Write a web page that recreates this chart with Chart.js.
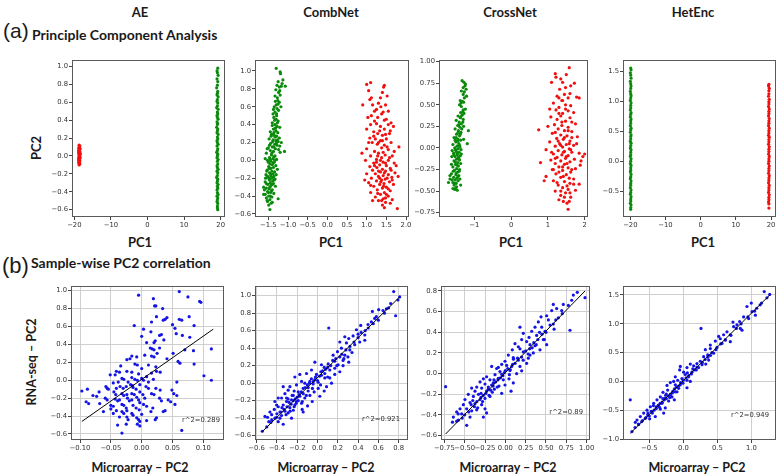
<!DOCTYPE html>
<html><head><meta charset="utf-8">
<script src="https://cdn.jsdelivr.net/npm/chart.js@4"></script>
<style>
html,body{margin:0;padding:0;width:778px;height:476px;overflow:hidden;background:#fff;}
body{position:relative;font-family:Lato,sans-serif;}
canvas{position:absolute;}
.t{position:absolute;white-space:nowrap;color:#1a1a1a;transform:translate(-50%,-50%);line-height:1;}
.b{font-family:Lato,sans-serif;font-weight:700;}
.l{position:absolute;white-space:nowrap;color:#1a1a1a;line-height:1;}
.r{transform:translate(-50%,-50%) rotate(-90deg);}
</style></head><body>
<div class="t b" style="left:140px;top:12px;font-size:13px">AE</div>
<div class="t b" style="left:331px;top:12px;font-size:13px">CombNet</div>
<div class="t b" style="left:510px;top:12px;font-size:13px">CrossNet</div>
<div class="t b" style="left:693px;top:12px;font-size:13px">HetEnc</div>
<div class="l" style="left:3px;top:20px;font-family:'Liberation Sans',sans-serif;font-size:21px">(a)</div>
<div class="l b" style="left:32px;top:28px;font-size:14px">Principle Component Analysis</div>
<div class="l" style="left:2px;top:255px;font-family:'Liberation Sans',sans-serif;font-size:22px">(b)</div>
<div class="l b" style="left:31px;top:256px;font-size:14px">Sample-wise PC2 correlation</div>
<div class="t b r" style="left:36px;top:148px;font-size:13px">PC2</div>
<div class="t b r" style="left:32px;top:362px;font-size:12.5px">RNA-seq – PC2</div>
<div class="t b" style="left:140px;top:242px;font-size:13px">PC1</div>
<div class="t b" style="left:331px;top:242px;font-size:13px">PC1</div>
<div class="t b" style="left:511px;top:242px;font-size:13px">PC1</div>
<div class="t b" style="left:703px;top:242px;font-size:13px">PC1</div>
<div class="t b" style="left:140px;top:468px;font-size:12.5px">Microarray – PC2</div>
<div class="t b" style="left:326px;top:468px;font-size:12.5px">Microarray – PC2</div>
<div class="t b" style="left:508px;top:468px;font-size:12.5px">Microarray – PC2</div>
<div class="t b" style="left:697px;top:468px;font-size:12.5px">Microarray – PC2</div>
<script>
// ---------------- DATA ----------------
const aeTopRed = [[-18.7,0.12],[-18.5,0.11],[-18.6,0.10],[-18.8,0.09],[-18.4,0.08],[-18.7,0.07],[-18.6,0.06],[-18.8,0.05],[-18.5,0.05],[-18.7,0.04],[-18.8,0.03],[-18.4,0.03],[-18.6,0.02],[-18.7,0.01],[-18.5,0.00],[-18.7,0.00],[-18.6,-0.01],[-18.8,-0.02],[-18.4,-0.02],[-18.7,-0.03],[-18.6,-0.04],[-18.8,-0.05],[-18.5,-0.05],[-18.7,-0.06],[-18.6,-0.07],[-18.8,-0.08],[-18.5,-0.09],[-18.7,-0.10],[-18.6,0.085],[-18.8,-0.035],[-18.45,0.015],[-18.75,0.065],[-18.65,-0.065]];
const aeTopGreen = [[19.2,0.98],[19.0,0.95],[19.1,0.93],[19.3,0.90],[19.0,0.86],[19.2,0.83],[19.1,0.79],[18.9,0.76],[19.2,0.72],[19.1,0.70],[19.0,0.68],[19.3,0.66],[19.1,0.63],[19.0,0.61],[19.2,0.59],[19.1,0.56],[18.9,0.54],[19.3,0.52],[19.1,0.49],[19.2,0.47],[19.0,0.45],[19.1,0.43],[19.3,0.41],[19.0,0.38],[19.2,0.36],[19.1,0.35],[18.9,0.32],[19.2,0.30],[19.1,0.28],[19.0,0.26],[19.3,0.24],[19.1,0.21],[19.2,0.19],[19.0,0.17],[19.1,0.15],[19.3,0.13],[19.0,0.11],[19.2,0.08],[19.1,0.06],[18.9,0.04],[19.2,0.02],[19.1,0.00],[19.0,-0.02],[19.3,-0.04],[19.1,-0.06],[19.2,-0.09],[19.0,-0.11],[19.1,-0.13],[19.3,-0.15],[19.0,-0.17],[19.2,-0.19],[19.1,-0.22],[18.9,-0.24],[19.2,-0.26],[19.1,-0.28],[19.0,-0.30],[19.3,-0.32],[19.1,-0.34],[19.2,-0.36],[19.0,-0.38],[19.1,-0.41],[19.3,-0.43],[19.0,-0.45],[19.2,-0.47],[19.1,-0.49],[19.0,-0.51],[19.2,-0.53],[19.1,-0.56],[19.1,-0.58],[19.2,-0.60]];
const combTopGreen = [[-1.30,1.03],[-1.20,0.99],[-1.19,0.97],[-1.13,0.90],[-1.07,0.83],[-1.25,0.88],[-1.28,0.84],[-1.22,0.82],[-1.17,0.83],[-1.31,0.79],[-1.24,0.76],[-1.20,0.73],[-1.27,0.70],[-1.33,0.72],[-1.26,0.67],[-1.22,0.65],[-1.30,0.62],[-1.35,0.60],[-1.28,0.58],[-1.24,0.56],[-1.33,0.54],[-1.18,0.60],[-1.38,0.52],[-1.29,0.50],[-1.36,0.48],[-1.30,0.46],[-1.25,0.44],[-1.40,0.42],[-1.33,0.40],[-1.28,0.38],[-1.21,0.37],[-1.37,0.35],[-1.31,0.33],[-1.45,0.32],[-1.26,0.31],[-1.42,0.29],[-1.35,0.28],[-1.29,0.27],[-1.22,0.25],[-1.48,0.24],[-1.38,0.23],[-1.31,0.22],[-1.25,0.21],[-1.17,0.20],[-1.44,0.19],[-1.34,0.18],[-1.28,0.17],[-1.40,0.15],[-1.50,0.14],[-1.32,0.13],[-1.24,0.12],[-1.45,0.11],[-1.37,0.10],[-1.09,0.10],[-1.55,0.08],[-1.20,0.09],[-1.42,0.06],[-1.33,0.05],[-1.47,0.03],[-1.38,0.02],[-1.29,0.01],[-1.52,0.00],[-1.43,-0.01],[-1.35,-0.02],[-1.46,-0.04],[-1.40,-0.05],[-1.31,-0.06],[-1.49,-0.07],[-1.37,-0.08],[-1.44,-0.09],[-1.27,-0.10],[-1.53,-0.11],[-1.41,-0.12],[-1.34,-0.13],[-1.47,-0.14],[-1.38,-0.15],[-1.56,-0.16],[-1.44,-0.17],[-1.36,-0.18],[-1.50,-0.19],[-1.42,-0.20],[-1.33,-0.21],[-1.47,-0.22],[-1.39,-0.23],[-1.58,-0.24],[-1.45,-0.25],[-1.37,-0.26],[-1.51,-0.27],[-1.43,-0.28],[-1.32,-0.29],[-1.62,-0.30],[-1.55,-0.31],[-1.48,-0.32],[-1.40,-0.33],[-1.52,-0.35],[-1.44,-0.36],[-1.36,-0.37],[-1.58,-0.38],[-1.49,-0.40],[-1.41,-0.41],[-1.55,-0.42],[-1.25,-0.43],[-1.46,-0.44],[-1.52,-0.46],[-1.43,-0.48],[-1.49,-0.50],[-1.46,-0.55],
 [-1.48,-0.21],[-1.52,-0.18],[-1.40,-0.27],[-1.46,-0.30],[-1.55,-0.26],[-1.35,-0.22],[-1.42,-0.34],[-1.50,-0.36],[-1.60,-0.33],[-1.45,-0.40],[-1.38,-0.03],[-1.45,0.01],[-1.50,-0.02],[-1.33,0.00],[-1.41,0.08],[-1.36,0.15],[-1.47,0.17],[-1.30,0.19],[-1.39,0.21],[-1.27,0.23],[-1.33,0.26],[-1.43,0.27],[-1.36,0.31],[-1.32,0.36],[-1.40,0.39],[-1.27,0.42],[-1.34,0.45],[-1.29,0.52],[-1.37,0.57],[-1.25,0.63],[-1.32,0.66],[-1.21,0.78],[-1.15,0.86],[-1.48,-0.09],[-1.54,-0.12],[-1.44,-0.15],[-1.30,-0.16],[-1.57,-0.20],[-1.39,-0.19],[-1.62,-0.38],[-1.53,-0.45],[-1.40,-0.47],[-1.36,0.04],[-1.53,0.13],[-1.21,0.16],[-1.58,0.02]];
const combTopRed = [[1.00,0.85],[1.10,0.87],[1.43,0.82],[1.45,0.84],[1.05,0.78],[1.40,0.76],[1.52,0.72],[0.90,0.62],[1.08,0.68],[1.15,0.62],[1.30,0.64],[1.36,0.60],[1.48,0.62],[1.25,0.57],[1.42,0.54],[1.03,0.48],[1.12,0.50],[1.28,0.48],[1.50,0.46],[1.20,0.44],[1.62,0.42],[1.55,0.40],[1.10,0.40],[1.35,0.38],[1.00,0.35],[1.45,0.35],[1.60,0.33],[1.18,0.32],[1.28,0.30],[1.40,0.28],[1.08,0.25],[1.22,0.24],[1.50,0.24],[1.35,0.22],[1.62,0.20],[1.14,0.20],[1.27,0.18],[1.45,0.17],[1.82,0.15],[1.00,0.13],[1.38,0.14],[1.55,0.12],[1.20,0.10],[1.30,0.08],[1.47,0.06],[1.65,0.05],[1.10,0.05],[1.38,0.03],[0.97,0.00],[1.25,0.01],[1.55,0.00],[1.42,-0.02],[1.18,-0.03],[1.70,-0.03],[1.33,-0.05],[1.50,-0.06],[1.08,-0.07],[1.26,-0.08],[1.60,-0.09],[1.40,-0.10],[1.15,-0.11],[1.48,-0.12],[1.35,-0.13],[1.72,-0.14],[1.00,-0.15],[1.22,-0.15],[1.55,-0.16],[1.42,-0.17],[1.30,-0.18],[1.64,-0.19],[1.12,-0.20],[1.47,-0.21],[1.38,-0.22],[1.25,-0.23],[1.58,-0.24],[1.05,-0.25],[1.44,-0.26],[1.33,-0.27],[1.68,-0.27],[1.18,-0.29],[1.50,-0.30],[1.40,-0.31],[1.27,-0.33],[1.60,-0.34],[1.10,-0.36],[1.45,-0.36],[1.35,-0.38],[1.55,-0.40],[1.22,-0.41],[1.42,-0.43],[1.30,-0.45],[1.48,-0.47],[1.40,-0.50],[1.78,-0.54],[1.65,-0.44],
 [1.45,-0.14],[1.52,-0.20],[1.36,-0.24],[1.43,-0.29],[1.55,-0.32],[1.30,-0.12],[1.62,-0.11],[1.20,-0.06],[1.48,-0.03],[1.35,0.00],[1.58,0.03],[1.28,0.05],[1.42,0.09],[1.52,0.15],[1.30,0.20],[1.40,0.22],[1.18,0.27],[1.48,0.29],[1.33,0.33],[1.25,0.41],[1.45,0.45],[1.38,0.52],[1.20,0.55],[1.55,0.55],[1.12,0.70],[1.35,0.70],[1.65,-0.22],[1.75,-0.06],[0.95,-0.22],[1.10,-0.28],[1.28,-0.37],[1.50,-0.38],[1.38,-0.45],[1.60,-0.48],[1.45,-0.53],[1.15,-0.45],[1.70,0.10],[1.80,-0.18],[0.88,0.08],[1.05,0.20],[1.58,0.30],[1.68,0.38],[1.48,-0.42],[1.33,-0.20],[1.25,-0.02]];
const crossTopGreen = [[-1.33,0.78],[-1.28,0.76],[-1.25,0.72],[-1.30,0.70],[-1.22,0.68],[-1.35,0.66],[-1.27,0.65],[-1.21,0.60],[-1.38,0.55],[-1.33,0.54],[-1.29,0.53],[-1.40,0.50],[-1.35,0.48],[-1.24,0.45],[-1.31,0.42],[-1.37,0.41],[-1.28,0.40],[-1.33,0.38],[-1.44,0.37],[-1.38,0.35],[-1.30,0.33],[-1.49,0.32],[-1.41,0.30],[-1.35,0.28],[-1.45,0.26],[-1.39,0.24],[-1.29,0.25],[-1.16,0.20],[-1.52,0.22],[-1.43,0.20],[-1.36,0.18],[-1.48,0.16],[-1.40,0.14],[-1.55,0.12],[-1.44,0.10],[-1.37,0.09],[-1.50,0.07],[-1.42,0.05],[-1.58,0.04],[-1.47,0.02],[-1.39,0.01],[-1.53,0.00],[-1.44,-0.01],[-1.36,-0.02],[-1.19,0.05],[-1.49,-0.04],[-1.41,-0.05],[-1.56,-0.06],[-1.46,-0.08],[-1.38,-0.09],[-1.52,-0.10],[-1.43,-0.11],[-1.61,-0.10],[-1.48,-0.13],[-1.40,-0.14],[-1.55,-0.15],[-1.45,-0.17],[-1.37,-0.18],[-1.51,-0.19],[-1.43,-0.21],[-1.58,-0.22],[-1.48,-0.24],[-1.40,-0.25],[-1.54,-0.26],[-1.45,-0.28],[-1.62,-0.30],[-1.50,-0.31],[-1.42,-0.32],[-1.56,-0.34],[-1.47,-0.35],[-1.66,-0.36],[-1.52,-0.37],[-1.44,-0.38],[-1.58,-0.40],[-1.49,-0.41],[-1.70,-0.40],[-1.55,-0.43],[-1.37,-0.43],[-1.50,-0.46],[-1.46,-0.49],[-1.53,-0.48],
 [-1.47,-0.20],[-1.52,-0.16],[-1.41,-0.27],[-1.49,-0.29],[-1.57,-0.27],[-1.44,-0.33],[-1.53,-0.41],[-1.60,-0.37],[-1.46,-0.06],[-1.51,-0.02],[-1.40,0.03],[-1.45,0.08],[-1.49,0.12],[-1.38,0.16],[-1.44,0.18],[-1.34,0.22],[-1.42,0.27],[-1.31,0.30],[-1.37,0.36],[-1.30,0.44],[-1.36,0.52],[-1.27,0.58],[-1.30,0.62],[-1.24,0.74],[-1.55,-0.08],[-1.42,-0.12],[-1.62,-0.19],[-1.35,-0.07],[-1.66,-0.32],[-1.48,-0.45],[-1.58,-0.47],[-1.39,-0.36],[-1.52,0.09],[-1.29,0.10],[-1.60,-0.03]];
const crossTopRed = [[1.58,0.93],[1.20,0.86],[1.22,0.82],[1.50,0.85],[1.10,0.76],[1.40,0.76],[1.62,0.72],[1.32,0.68],[1.45,0.62],[1.25,0.60],[1.55,0.58],[1.78,0.59],[1.85,0.58],[1.38,0.55],[1.15,0.52],[1.48,0.50],[1.62,0.49],[1.30,0.47],[1.22,0.44],[1.55,0.43],[1.70,0.41],[1.40,0.40],[1.08,0.36],[1.35,0.37],[1.60,0.35],[1.25,0.33],[1.48,0.31],[1.75,0.28],[1.18,0.27],[1.38,0.26],[1.55,0.24],[0.75,0.21],[1.28,0.22],[1.45,0.20],[1.65,0.19],[1.12,0.17],[1.35,0.15],[1.52,0.14],[1.80,0.13],[1.24,0.11],[1.42,0.10],[1.60,0.08],[1.05,0.07],[1.32,0.05],[1.50,0.04],[1.70,0.03],[1.20,0.02],[1.40,0.01],[1.58,-0.01],[0.95,-0.02],[1.28,-0.03],[1.45,-0.04],[1.65,-0.05],[1.85,-0.06],[1.15,-0.07],[1.38,-0.08],[1.55,-0.09],[2.00,-0.07],[1.25,-0.11],[1.48,-0.12],[1.72,-0.13],[1.08,-0.14],[1.35,-0.15],[1.60,-0.16],[0.80,-0.17],[1.20,-0.18],[1.45,-0.19],[1.90,-0.15],[1.30,-0.22],[1.55,-0.23],[1.75,-0.24],[1.12,-0.25],[1.40,-0.26],[1.62,-0.28],[1.22,-0.30],[1.50,-0.31],[0.95,-0.33],[1.35,-0.34],[1.70,-0.36],[1.15,-0.38],[1.45,-0.39],[1.60,-0.41],[1.28,-0.43],[1.85,-0.42],[1.40,-0.46],[1.55,-0.48],[1.20,-0.50],[1.48,-0.52],[1.35,-0.55],[1.62,-0.57],[1.42,-0.62],[1.52,-0.64],[1.55,-0.71],[1.75,-0.49],[0.90,-0.38],
 [1.42,-0.05],[1.50,-0.10],[1.35,0.03],[1.58,0.05],[1.28,0.08],[1.45,0.12],[1.62,-0.02],[1.52,-0.18],[1.40,-0.22],[1.65,-0.25],[1.30,-0.28],[1.58,-0.35],[1.42,-0.33],[1.25,-0.40],[1.52,-0.44],[1.35,-0.50],[1.60,-0.52],[1.45,-0.57],[1.20,0.18],[1.55,0.20],[1.38,0.30],[1.65,0.30],[1.30,0.40],[1.48,0.45],[1.40,0.55],[1.30,0.58],[1.60,0.63],[1.48,0.70],[1.72,0.75],[1.35,0.80],[1.10,-0.05],[1.78,0.05],[1.88,-0.20],[1.00,0.25],[1.15,-0.25],[1.70,-0.42],[1.30,-0.60],[1.58,-0.62],[1.65,0.12],[1.20,-0.12],[1.95,-0.10],[1.05,0.45]];
const hetTopGreen = [[-19.9,1.55],[-19.8,1.52],[-20.0,1.47],[-19.9,1.43],[-19.8,1.38],[-20.0,1.33],[-19.9,1.29],[-19.8,1.25],[-19.9,1.21],[-20.0,1.16],[-19.9,1.12],[-19.8,1.09],[-19.9,1.05],[-20.0,1.01],[-19.8,0.97],[-19.9,0.93],[-19.9,0.89],[-20.0,0.85],[-19.8,0.81],[-19.9,0.78],[-20.0,0.74],[-19.8,0.70],[-19.9,0.67],[-19.9,0.63],[-20.0,0.59],[-19.8,0.55],[-19.9,0.52],[-20.0,0.48],[-19.8,0.44],[-19.9,0.41],[-19.9,0.37],[-20.0,0.33],[-19.8,0.30],[-19.9,0.26],[-20.0,0.22],[-19.8,0.19],[-19.9,0.15],[-19.9,0.11],[-20.0,0.08],[-19.8,0.04],[-19.9,0.00],[-20.0,-0.04],[-19.8,-0.07],[-19.9,-0.11],[-19.9,-0.15],[-20.0,-0.18],[-19.8,-0.22],[-19.9,-0.26],[-20.0,-0.29],[-19.8,-0.33],[-19.9,-0.37],[-19.9,-0.40],[-20.0,-0.44],[-19.8,-0.48],[-19.9,-0.52],[-20.0,-0.55],[-19.8,-0.59],[-19.9,-0.63],[-19.9,-0.66],[-20.0,-0.70],[-19.8,-0.73],[-19.9,-0.77],[-19.9,-0.80]];
const hetTopRed = [[19.4,1.28],[19.3,1.25],[19.5,1.21],[19.4,1.17],[19.4,1.12],[19.3,1.08],[19.5,1.03],[19.4,0.99],[19.4,0.95],[19.3,0.91],[19.5,0.87],[19.4,0.83],[19.4,0.79],[19.3,0.75],[19.5,0.71],[19.4,0.67],[19.4,0.63],[19.3,0.59],[19.5,0.55],[19.4,0.51],[19.4,0.47],[19.3,0.43],[19.5,0.40],[19.4,0.36],[19.4,0.32],[19.3,0.28],[19.5,0.24],[19.4,0.20],[19.4,0.16],[19.3,0.12],[19.5,0.08],[19.4,0.04],[19.4,0.00],[19.3,-0.04],[19.5,-0.08],[19.4,-0.12],[19.4,-0.16],[19.3,-0.20],[19.5,-0.24],[19.4,-0.28],[19.4,-0.32],[19.3,-0.36],[19.5,-0.40],[19.4,-0.44],[19.4,-0.48],[19.3,-0.52],[19.5,-0.56],[19.4,-0.60],[19.4,-0.64],[19.3,-0.68],[19.4,-0.71],[19.4,-0.78]];

const aeBot = [[-0.005,0.95],[0.019,0.91],[0.021,0.83],[0.023,0.83],[0.061,0.99],[0.075,0.93],[0.094,0.88],[0.096,0.87],[0.034,0.80],[0.024,0.71],[0.041,0.70],[0.016,0.65],[0.035,0.67],[0.038,0.68],[0.061,0.68],[0.065,0.67],[0.077,0.71],[0.050,0.62],[0.085,0.61],[-0.012,0.61],[0.003,0.57],[0.015,0.54],[0.029,0.50],[0.032,0.51],[0.054,0.58],[0.056,0.52],[0.066,0.50],[0.078,0.48],[0.000,0.49],[0.022,0.44],[0.020,0.42],[0.008,0.42],[0.036,0.45],[0.113,0.35],[0.014,0.36],[0.017,0.35],[0.020,0.34],[0.029,0.36],[0.051,0.30],[0.025,0.30],[0.070,0.34],[0.084,0.33],[0.005,0.28],[-0.008,0.26],[-0.016,0.27],[0.016,0.27],[0.020,0.26],[-0.019,0.24],[0.041,0.24],[-0.024,0.23],[0.059,0.21],[0.062,0.19],[-0.011,0.18],[-0.007,0.17],[0.085,0.18],[-0.034,0.16],[0.011,0.17],[0.023,0.15],[0.000,0.13],[-0.041,0.10],[-0.036,0.09],[-0.024,0.10],[-0.016,0.09],[0.024,0.10],[0.030,0.09],[-0.005,0.07],[-0.043,0.06],[-0.051,0.06],[0.016,0.08],[0.101,0.05],[0.113,0.00],[0.057,-0.02],[-0.032,0.02],[-0.029,0.01],[-0.016,0.03],[-0.011,0.01],[-0.007,0.00],[0.000,0.02],[0.003,0.00],[0.008,0.04],[0.011,-0.02],[0.019,0.01],[-0.038,-0.02],[-0.046,-0.03],[-0.022,-0.02],[-0.018,-0.05],[-0.003,-0.05],[-0.058,-0.07],[-0.056,-0.09],[-0.054,-0.10],[-0.041,-0.09],[-0.035,-0.07],[-0.030,-0.09],[-0.025,-0.07],[-0.014,-0.08],[-0.009,-0.10],[0.007,-0.07],[0.011,-0.09],[0.023,-0.09],[0.030,-0.11],[-0.097,-0.12],[-0.088,-0.10],[-0.079,-0.17],[-0.069,-0.13],[-0.045,-0.13],[-0.042,-0.16],[-0.032,-0.15],[-0.029,-0.17],[-0.024,-0.16],[-0.016,-0.15],[-0.012,-0.16],[-0.003,-0.13],[0.002,-0.16],[0.016,-0.15],[0.020,-0.16],[0.049,-0.11],[0.052,-0.15],[0.057,-0.17],[-0.073,-0.18],[-0.059,-0.20],[-0.056,-0.22],[-0.043,-0.21],[-0.039,-0.23],[-0.036,-0.22],[-0.023,-0.20],[-0.020,-0.23],[-0.016,-0.22],[-0.008,-0.19],[-0.005,-0.22],[-0.003,-0.25],[0.005,-0.20],[0.029,-0.20],[0.032,-0.23],[0.043,-0.22],[0.047,-0.24],[0.054,-0.27],[-0.090,-0.24],[-0.086,-0.26],[-0.068,-0.26],[-0.050,-0.28],[-0.046,-0.29],[-0.032,-0.27],[-0.029,-0.28],[-0.025,-0.31],[-0.014,-0.28],[-0.009,-0.31],[0.003,-0.27],[0.008,-0.29],[0.018,-0.31],[0.035,-0.35],[0.038,-0.34],[-0.062,-0.35],[-0.050,-0.32],[-0.046,-0.37],[-0.041,-0.34],[-0.032,-0.35],[-0.029,-0.37],[-0.024,-0.34],[-0.016,-0.37],[-0.014,-0.39],[-0.004,-0.33],[0.000,-0.38],[0.015,-0.35],[0.024,-0.42],[-0.036,-0.41],[-0.024,-0.41],[-0.022,-0.44],[-0.008,-0.42],[-0.005,-0.44],[-0.003,-0.46],[0.008,-0.45],[-0.039,-0.50],[-0.025,-0.49],[-0.007,-0.49],[-0.003,-0.51],[0.065,-0.56],[-0.032,-0.59],[0.022,-0.44],[-0.015,-0.06]];
const combBot = [[0.751,1.046],[0.81,0.985],[0.793,0.95],[0.721,0.91],[0.77,0.77],[0.679,0.85],[0.646,0.83],[0.603,0.84],[0.541,0.82],[0.564,0.74],[0.531,0.70],[0.498,0.67],[0.466,0.55],[0.426,0.66],[0.384,0.61],[0.40,0.56],[0.351,0.54],[0.308,0.51],[0.269,0.53],[0.285,0.46],[0.22,0.47],[0.111,0.63],[0.236,0.40],[0.197,0.36],[0.154,0.32],[0.22,0.30],[0.252,0.26],[0.17,0.25],[0.308,0.24],[0.105,0.22],[0.066,0.18],[0.121,0.15],[0.17,0.17],[0.033,0.13],[-0.010,0.10],[0.039,0.09],[0.072,0.06],[-0.026,0.04],[-0.075,0.02],[0.007,0.01],[-0.043,-0.01],[-0.125,0.0],[-0.174,0.10],[-0.223,0.07],[-0.141,-0.06],[-0.092,-0.09],[-0.19,-0.10],[-0.239,-0.14],[-0.289,-0.08],[-0.321,-0.12],[-0.256,-0.19],[-0.207,-0.21],[-0.305,-0.21],[-0.354,-0.17],[-0.338,-0.25],[-0.387,-0.27],[-0.272,-0.28],[-0.223,-0.25],[-0.42,-0.21],[-0.426,-0.30],[-0.370,-0.33],[-0.321,-0.32],[-0.469,-0.33],[-0.518,-0.38],[-0.492,-0.39],[-0.403,-0.39],[-0.354,-0.37],[-0.387,-0.44],[-0.452,-0.42],[-0.338,-0.47],[-0.289,-0.34],[-0.151,-0.30],[-0.098,-0.26],[-0.052,-0.21],[-0.544,-0.55],[-0.50,-0.50],[-0.256,-0.40],[0.023,-0.15],[0.007,-0.06],[0.066,-0.09],[0.089,-0.04],[0.138,0.0],[0.121,0.06],[-0.059,0.15],[-0.108,0.11],[0.203,0.21],[0.252,0.20],[0.269,0.32],[0.318,0.38],[0.367,0.44],[0.416,0.47],[0.466,0.49],[0.072,0.11],[-0.157,0.02],[-0.207,-0.02],[-0.272,-0.04],[-0.23,-0.09],[-0.174,-0.15],[-0.125,-0.17],[-0.305,-0.17],[-0.403,-0.25],[-0.157,-0.23],[-0.239,-0.31],[-0.452,-0.36],[-0.033,-0.10],[-0.075,-0.14],[0.17,0.10],[0.22,0.13],[0.039,0.21],[-0.026,0.24],[-0.092,-0.05],[-0.338,-0.04],[-0.387,-0.17],[-0.141,-0.33],
 [-0.30,-0.27],[-0.28,-0.22],[-0.26,-0.24],[-0.24,-0.20],[-0.22,-0.18],[-0.20,-0.16],[-0.33,-0.30],[-0.35,-0.28],[-0.18,-0.13],[-0.16,-0.10],[-0.14,-0.12],[-0.12,-0.05],[-0.10,-0.02],[-0.08,0.00],[-0.06,0.05],[-0.04,0.02],[-0.02,0.07],[0.00,0.03],[0.02,0.08],[0.05,0.14],[0.08,0.16],[0.10,0.18],[0.13,0.20],[0.15,0.26],[0.18,0.28],[0.24,0.33],[0.28,0.38],[0.32,0.42],[0.36,0.47],[0.43,0.58],[0.47,0.60],[0.55,0.68],[0.60,0.72],[0.66,0.80],[0.70,0.86],[-0.40,-0.35],[-0.42,-0.40],[-0.46,-0.45],[-0.37,-0.40],[-0.31,-0.36],[-0.27,-0.32],[-0.23,-0.27],[-0.19,-0.20],[-0.25,-0.14],[-0.29,-0.18],[-0.15,-0.21],[-0.21,-0.23],[-0.11,-0.14],[-0.05,-0.06],[0.03,-0.02],[0.10,0.07],[0.19,0.20],[0.26,0.28],[0.30,0.30],[-0.36,-0.33],[-0.48,-0.44],[0.58,0.76],[0.50,0.63],[0.40,0.52],[0.34,0.35]];
const crossBot = [[0.885,0.787],[0.98,0.735],[0.816,0.71],[0.775,0.66],[0.713,0.67],[0.59,0.67],[0.631,0.63],[0.57,0.61],[0.508,0.56],[0.439,0.55],[0.529,0.52],[0.59,0.48],[0.795,0.42],[0.406,0.50],[0.365,0.45],[0.447,0.45],[0.324,0.41],[0.18,0.45],[0.385,0.37],[0.291,0.35],[0.221,0.39],[0.262,0.31],[0.201,0.33],[0.119,0.29],[0.16,0.26],[0.303,0.28],[0.365,0.27],[0.508,0.28],[0.426,0.23],[0.303,0.18],[0.221,0.21],[0.086,0.23],[0.037,0.18],[0.098,0.155],[0.16,0.13],[-0.004,0.12],[-0.045,0.09],[0.016,0.08],[0.078,0.07],[0.18,0.07],[0.262,0.10],[-0.107,0.05],[-0.066,0.02],[-0.012,0.01],[0.057,0.03],[0.139,0.0],[-0.168,0.07],[-0.127,-0.01],[-0.086,-0.045],[-0.025,-0.06],[0.045,-0.05],[0.098,-0.09],[0.07,-0.17],[-0.189,-0.06],[-0.23,-0.03],[-0.148,-0.09],[-0.078,-0.12],[-0.25,-0.10],[-0.311,-0.08],[-0.209,-0.13],[-0.291,-0.14],[-0.352,-0.13],[-0.414,-0.14],[-0.373,-0.17],[-0.299,-0.19],[-0.23,-0.17],[-0.16,-0.18],[-0.25,-0.24],[-0.189,-0.22],[-0.311,-0.25],[-0.393,-0.22],[-0.455,-0.20],[-0.496,-0.25],[-0.434,-0.28],[-0.373,-0.29],[-0.291,-0.30],[-0.516,-0.30],[-0.557,-0.34],[-0.475,-0.34],[-0.414,-0.36],[-0.34,-0.33],[-0.25,-0.34],[-0.23,-0.38],[-0.598,-0.37],[-0.537,-0.39],[-0.639,-0.42],[-0.578,-0.45],[-0.475,-0.50],[-0.598,-0.46],[-0.734,-0.126],[-0.045,-0.19],[-0.004,-0.11],[-0.135,-0.15],[-0.086,0.06],[-0.045,-0.007],[0.201,0.027],[0.283,0.15],[0.344,0.20],[0.467,0.33],[0.488,0.41],[0.652,0.54],[0.693,0.61],[0.836,0.76],[-0.352,-0.35],[-0.434,-0.42],[-0.27,-0.42],[-0.168,-0.11],[-0.27,-0.05],
 [-0.30,-0.23],[-0.27,-0.21],[-0.24,-0.19],[-0.21,-0.15],[-0.18,-0.16],[-0.15,-0.12],[-0.12,-0.08],[-0.09,-0.06],[-0.06,-0.04],[-0.03,-0.02],[0.00,0.03],[0.03,0.05],[0.06,0.04],[0.09,0.09],[0.12,0.10],[0.15,0.15],[0.20,0.16],[0.25,0.22],[0.30,0.24],[0.35,0.30],[0.40,0.33],[0.45,0.38],[0.50,0.40],[0.55,0.47],[0.62,0.52],[0.70,0.58],[-0.35,-0.27],[-0.38,-0.32],[-0.42,-0.30],[-0.45,-0.37],[-0.50,-0.40],[-0.53,-0.43],[-0.33,-0.20],[-0.20,-0.21],[-0.10,-0.13],[0.05,-0.01],[0.10,0.14],[0.22,0.13],[0.28,0.19],[0.33,0.25],[-0.40,-0.26],[-0.28,-0.27],[-0.14,-0.06],[0.18,0.24],[0.38,0.28],[-0.65,-0.47],[-0.58,-0.39],[0.48,0.33],[0.60,0.43],[0.42,0.40]];
const hetBot = [[1.19,1.56],[1.27,1.51],[1.23,1.45],[1.0,1.36],[1.08,1.27],[0.936,1.30],[1.01,1.21],[0.887,1.12],[0.961,1.09],[0.828,1.04],[0.73,1.03],[0.789,0.98],[0.838,0.92],[0.74,0.95],[0.26,0.92],[0.593,0.81],[0.52,0.78],[0.617,0.72],[0.691,0.69],[0.569,0.66],[0.495,0.59],[0.397,0.57],[0.446,0.49],[0.358,0.46],[0.299,0.43],[0.373,0.37],[0.25,0.35],[0.201,0.31],[0.152,0.27],[0.103,0.30],[0.054,0.24],[-0.044,0.26],[0.191,0.20],[0.127,0.16],[0.029,0.12],[-0.02,0.05],[-0.083,0.02],[-0.118,0.08],[0.054,0.02],[-0.005,-0.03],[-0.118,-0.06],[-0.191,-0.02],[-0.24,-0.07],[-0.069,-0.12],[-0.152,-0.17],[-0.23,-0.15],[-0.299,-0.19],[-0.167,-0.27],[-0.265,-0.29],[-0.338,-0.27],[-0.387,-0.32],[-0.314,-0.38],[-0.216,-0.34],[-0.436,-0.38],[-0.485,-0.44],[-0.397,-0.47],[-0.338,-0.48],[-0.265,-0.46],[-0.534,-0.50],[-0.583,-0.55],[-0.524,-0.58],[-0.456,-0.55],[-0.632,-0.61],[-0.681,-0.67],[-0.613,-0.70],[-0.706,-0.71],[-0.559,-0.64],[-0.657,-0.75],[-0.755,-0.87],[-0.78,-0.32],[-0.461,-0.53],[-0.142,0.0],[-0.054,0.20],[0.005,0.16],[0.078,0.08],[0.103,0.0],[-0.093,-0.18],[-0.191,-0.24],[-0.363,-0.41],[-0.412,-0.61],[-0.289,-0.55],[0.324,0.55],[0.397,0.63],[0.471,0.70],[0.544,0.74],[0.642,0.86],[0.691,0.81],[0.863,0.89],[1.06,1.15],[1.13,1.33],[0.225,0.24],[0.275,0.29],[0.054,-0.11],[-0.044,-0.06],[-0.25,-0.22],[-0.132,-0.32],[-0.495,-0.65],
 [-0.60,-0.68],[-0.55,-0.63],[-0.50,-0.60],[-0.47,-0.52],[-0.43,-0.50],[-0.40,-0.44],[-0.37,-0.42],[-0.34,-0.38],[-0.31,-0.36],[-0.28,-0.32],[-0.25,-0.30],[-0.22,-0.25],[-0.19,-0.22],[-0.16,-0.20],[-0.13,-0.13],[-0.10,-0.10],[-0.07,-0.08],[-0.04,-0.02],[0.00,0.02],[0.04,0.06],[0.08,0.10],[0.12,0.13],[0.16,0.20],[0.20,0.25],[0.28,0.33],[0.32,0.38],[0.36,0.42],[0.42,0.50],[0.48,0.55],[0.55,0.65],[0.62,0.72],[0.70,0.80],[0.78,0.92],[0.85,1.00],[0.95,1.12],[1.05,1.22],[1.15,1.36],[-0.66,-0.74],[-0.71,-0.80],[-0.44,-0.42],[-0.35,-0.45],[-0.26,-0.24],[-0.12,-0.18],[-0.20,-0.28],[0.06,0.15],[0.14,0.22],[0.33,0.30],[0.40,0.45],[-0.52,-0.55],[-0.30,-0.30]];

const aeFit = [[-0.097,-0.46],[0.116,0.57]];
const combFit = [[-0.544,-0.554],[0.81,0.985]];
const crossFit = [[-0.734,-0.584],[0.98,0.80]];
const hetFit = [[-0.779,-0.90],[1.28,1.51]];
const r2Labels = ['r^2=0.289','r^2=0.921','r^2=0.89','r^2=0.949'];

const aeTopXTicks = [-20,-10,0,10,20];
const aeTopYTicks = [-0.6,-0.4,-0.2,0,0.2,0.4,0.6,0.8,1.0];
const combTopXTicks = [-1.5,-1.0,-0.5,0,0.5,1.0,1.5,2.0];
const combTopYTicks = [-0.6,-0.4,-0.2,0,0.2,0.4,0.6,0.8,1.0];
const crossTopXTicks = [-1,0,1,2];
const crossTopYTicks = [-0.75,-0.5,-0.25,0,0.25,0.5,0.75,1.0];
const hetTopXTicks = [-20,-10,0,10,20];
const hetTopYTicks = [-0.5,0,0.5,1.0,1.5];
const aeBotXTicks = [-0.10,-0.05,0,0.05,0.10];
const aeBotYTicks = [-0.6,-0.4,-0.2,0,0.2,0.4,0.6,0.8,1.0];
const combBotXTicks = [-0.6,-0.4,-0.2,0,0.2,0.4,0.6,0.8];
const combBotYTicks = [-0.6,-0.4,-0.2,0,0.2,0.4,0.6,0.8,1.0];
const crossBotXTicks = [-0.75,-0.5,-0.25,0,0.25,0.5,0.75,1.0];
const crossBotYTicks = [-0.6,-0.4,-0.2,0,0.2,0.4,0.6,0.8];
const hetBotXTicks = [-0.5,0,0.5,1.0];
const hetBotYTicks = [-1.0,-0.5,0,0.5,1.0,1.5];

// ---------------- LAYOUT / STYLE ----------------
const GREEN = '#0a8a0a', RED = '#f01010', BLUE = '#1414e6';
const YW = 30, XH = 16, PADT = 6, PADR = 12;
const panels = [
  {L:72,T:60,R:225,B:217, x:[-20.64,21.18,aeTopXTicks,0], y:[-0.682,1.071,aeTopYTicks,1], grid:false,
   series:[[aeTopRed,RED],[aeTopGreen,GREEN]]},
  {L:255,T:60,R:409,B:217, x:[-1.839,2.076,combTopXTicks,1], y:[-0.634,1.123,combTopYTicks,1], grid:false,
   series:[[combTopGreen,GREEN],[combTopRed,RED]]},
  {L:439,T:60,R:588,B:217, x:[-1.958,2.09,crossTopXTicks,0], y:[-0.80,1.019,crossTopYTicks,2], grid:false,
   series:[[crossTopGreen,GREEN],[crossTopRed,RED]]},
  {L:623,T:60,R:776,B:217, x:[-22.09,21.42,hetTopXTicks,0], y:[-0.928,1.683,hetTopYTicks,1], grid:false,
   series:[[hetTopGreen,GREEN],[hetTopRed,RED]]},
  {L:71,T:286,R:224,B:440, x:[-0.1146,0.1335,aeBotXTicks,2], y:[-0.667,1.052,aeBotYTicks,1], grid:true,
   series:[[aeBot,BLUE]], fit:aeFit, note:[r2Labels[0],4,20]},
  {L:255,T:286,R:408,B:440, x:[-0.616,0.892,combBotXTicks,1], y:[-0.65,1.11,combBotYTicks,1], grid:true,
   series:[[combBot,BLUE]], fit:combFit, note:[r2Labels[1],8,21]},
  {L:441,T:286,R:590,B:440, x:[-0.791,1.041,crossBotXTicks,2], y:[-0.642,0.848,crossBotYTicks,1], grid:true,
   series:[[crossBot,BLUE]], fit:crossFit, note:[r2Labels[2],7,28]},
  {L:623,T:286,R:776,B:440, x:[-0.887,1.363,hetBotXTicks,1], y:[-1.017,1.656,hetBotYTicks,1], grid:true,
   series:[[hetBot,BLUE]], fit:hetFit, note:[r2Labels[3],7,25]}
];

const TICKFONT = {family:'DejaVu Sans', size:6.8};
const fmt = (v,d) => (v < -1e-9 ? '\u2212' : '') + Math.abs(v).toFixed(d);

const framePlugin = {
  id:'frame',
  afterDraw(chart, args, opts) {
    const {ctx, chartArea:a} = chart;
    ctx.save();
    ctx.strokeStyle = '#5a5a5a'; ctx.lineWidth = 1;
    ctx.strokeRect(Math.round(a.left)+0.5, Math.round(a.top)+0.5, Math.round(a.right-a.left)-1, Math.round(a.bottom-a.top)-1);
    if (opts.note) {
      ctx.fillStyle = '#333'; ctx.font = '6.8px "DejaVu Sans"';
      ctx.textAlign = 'right'; ctx.textBaseline = 'middle';
      ctx.fillText(opts.note[0], a.right - opts.note[1], a.bottom - opts.note[2]);
    }
    ctx.restore();
  }
};

function axis(spec, grid, isX) {
  const [min, max, ticks, dec] = spec;
  return {
    type:'linear', min, max,
    afterBuildTicks: s => { s.ticks = ticks.map(v => ({value:v})); },
    ticks:{font:TICKFONT, color:'#333', padding:1, autoSkip:false, maxRotation:0, callback:(v)=>fmt(v,dec)},
    grid:{display:true, drawOnChartArea:grid, color:'#cfcfcf', lineWidth:1, tickColor:'#444', tickLength:3},
    border:{display:false},
    afterFit: s => {
      if (isX) { s.height = XH; } else { s.width = YW; }
      s.paddingLeft = 0; s.paddingRight = 0; s.paddingTop = 0; s.paddingBottom = 0;
    }
  };
}

panels.forEach(p => {
  const cv = document.createElement('canvas');
  const W = YW + (p.R - p.L) + PADR, H = PADT + (p.B - p.T) + XH;
  cv.width = W; cv.height = H;
  cv.style.left = (p.L - YW) + 'px'; cv.style.top = (p.T - PADT) + 'px';
  cv.style.width = W + 'px'; cv.style.height = H + 'px';
  document.body.appendChild(cv);
  const datasets = [];
  if (p.fit) datasets.push({data:p.fit.map(([x,y])=>({x,y})), showLine:true, borderColor:'#000', borderWidth:1, pointRadius:0, fill:false});
  p.series.forEach(([pts,col]) => datasets.push({data:pts.map(([x,y])=>({x,y})), backgroundColor:col, borderWidth:0, pointRadius:1.6, showLine:false}));
  new Chart(cv, {
    type:'scatter',
    data:{datasets},
    options:{
      responsive:false, animation:false, devicePixelRatio:1, events:[],
      layout:{padding:{top:PADT, right:PADR, left:0, bottom:0}},
      plugins:{legend:{display:false}, tooltip:{enabled:false}, frame:{note:p.note||null}},
      scales:{x:axis(p.x, p.grid, true), y:axis(p.y, p.grid, false)}
    },
    plugins:[framePlugin]
  });
});
</script>
</body></html>
